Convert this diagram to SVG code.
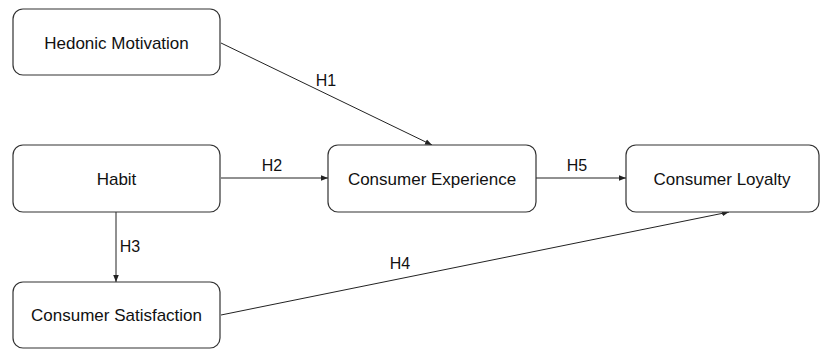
<svg xmlns="http://www.w3.org/2000/svg" width="822" height="350" viewBox="0 0 822 350">
<style>
.box{fill:#fff;stroke:#333;stroke-width:1.2}
.lbl{font-family:"Liberation Sans",Arial,sans-serif;font-size:17px;fill:#111;text-anchor:middle;dominant-baseline:central}
.edge{stroke:#222;stroke-width:1;fill:none;marker-end:url(#ah)}
.el{font-family:"Liberation Sans",Arial,sans-serif;font-size:16px;fill:#111;text-anchor:middle;dominant-baseline:central}
</style>
<defs>
<marker id="ah" viewBox="0 0 10 10" refX="10" refY="5" markerWidth="7" markerHeight="7" markerUnits="userSpaceOnUse" orient="auto">
<path d="M0,1 L10,5 L0,9 z" fill="#222"/>
</marker>
</defs>
<rect width="822" height="350" fill="#fff"/>
<g id="connectors">
<line class="edge" x1="221" y1="43" x2="432" y2="145"/>
<line class="edge" x1="221" y1="178" x2="328" y2="178"/>
<line class="edge" x1="116" y1="212" x2="116" y2="282"/>
<line class="edge" x1="221" y1="315" x2="729" y2="212"/>
<line class="edge" x1="536" y1="178" x2="626" y2="178"/>
<text class="el" x="326" y="80">H1</text>
<text class="el" x="272" y="165">H2</text>
<text class="el" x="130" y="246">H3</text>
<text class="el" x="400" y="263">H4</text>
<text class="el" x="577" y="165">H5</text>
</g>
<g id="hedonic"><rect class="box" x="13" y="9" width="207" height="66" rx="10"/><text class="lbl" x="116.5" y="43">Hedonic Motivation</text></g>
<g id="habit"><rect class="box" x="13" y="145" width="207" height="67" rx="10"/><text class="lbl" x="116.5" y="179">Habit</text></g>
<g id="satisfaction"><rect class="box" x="13" y="282" width="207" height="66" rx="10"/><text class="lbl" x="116.5" y="315">Consumer Satisfaction</text></g>
<g id="experience"><rect class="box" x="328" y="145" width="208" height="67" rx="10"/><text class="lbl" x="432" y="179">Consumer Experience</text></g>
<g id="loyalty"><rect class="box" x="626" y="145" width="193" height="67" rx="10"/><text class="lbl" x="722" y="179">Consumer Loyalty</text></g>
</svg>
